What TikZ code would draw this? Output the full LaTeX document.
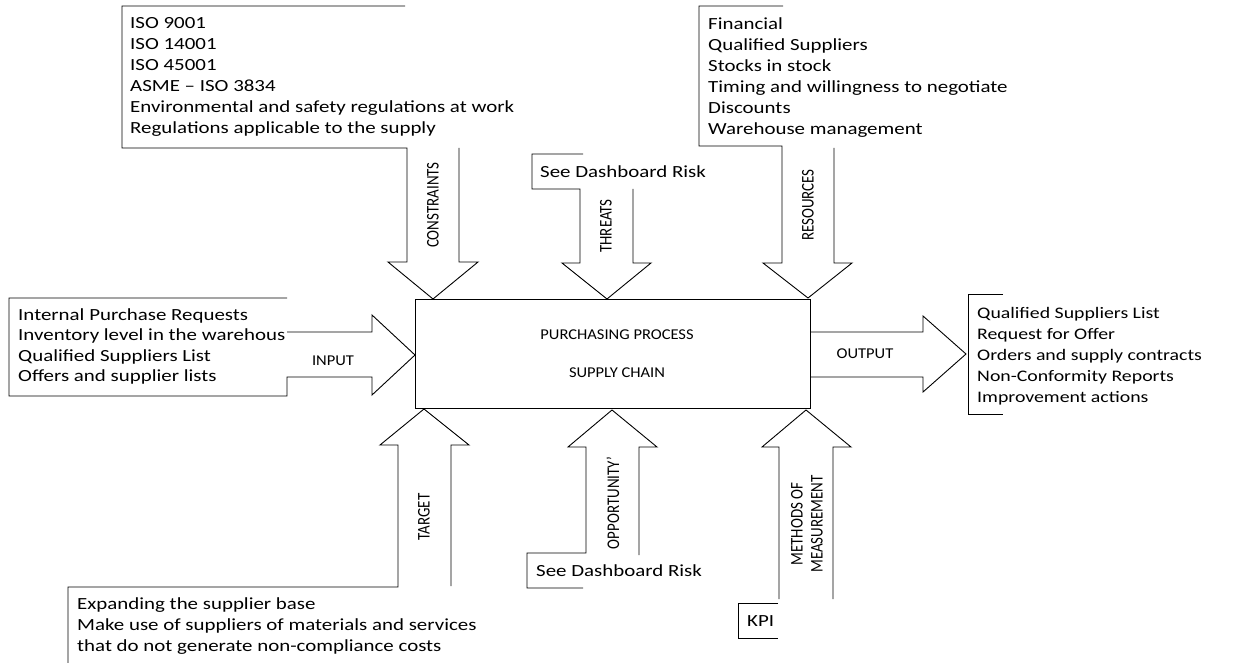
\documentclass[tikz,border=0pt]{standalone}
\usepackage{fontspec}
\setmainfont{Carlito}[Ligatures=TeX]
\newfontfamily\widefont{Carlito}[FakeStretch=1.23, Ligatures=TeX]
\newfontfamily\labelfont{Carlito}[FakeStretch=1.1, Ligatures=TeX]
\newfontfamily\narrowfont{Carlito}[FakeStretch=0.84, Ligatures=TeX]
\begin{document}
\begin{tikzpicture}[x=1pt,y=-1pt]
\tikzset{
  outline/.style={draw=black, line width=0.9pt, line join=miter},
  listtxt/.style={anchor=north west, inner sep=0pt, align=left,
    font=\widefont\fontsize{17}{21}\selectfont},
  smalllist/.style={listtxt, font=\widefont\fontsize{16.1}{21.2}\selectfont},
  vlabel/.style={rotate=90, inner sep=0pt, align=center,
    font=\narrowfont\fontsize{17.8}{20}\selectfont},
  hlabel/.style={inner sep=0pt, font=\labelfont\fontsize{15}{17}\selectfont},
}
\useasboundingbox (0,0) rectangle (1237,663);

% central process box
\node[outline, minimum width=395pt, minimum height=109pt, inner sep=0pt] (proc) at (612.5,353.5) {};
\node[hlabel] (proctitle) at (617,335) {PURCHASING PROCESS};
\node[hlabel] (procsub) at (617,373) {SUPPLY CHAIN};

% constraints: bracket and downward arrow
\draw[outline] (405,6) -- (122,6) -- (122,148) -- (407,148) -- (407,262) -- (388,262)
  -- (433,299) -- (478,262) -- (459,262) -- (459,148);
\node[listtxt] (constr) at (130,13.6) {\strut ISO 9001\\ISO 14001\\ISO 45001\\ASME – ISO 3834\\
  Environmental and safety regulations at work\\Regulations applicable to the supply};
\node[vlabel] (constrlbl) at (433,205) {CONSTRAINTS};

% threats
\draw[outline] (583,154) -- (532,154) -- (532,189) -- (580,189) -- (580,263) -- (562,263)
  -- (607,299) -- (651,263) -- (633,263) -- (633,189);
\node[listtxt] (threatsrc) at (540,162.5) {\strut See Dashboard Risk};
\node[vlabel] (threatlbl) at (606,226) {THREATS};

% resources
\draw[outline] (783,6) -- (699,6) -- (699,146) -- (782,146) -- (782,263) -- (763,263)
  -- (808,298) -- (852,263) -- (834,263) -- (834,148);
\node[listtxt] (resrc) at (708,14.5) {\strut Financial\\Qualified Suppliers\\Stocks in stock\\
  Timing and willingness to negotiate\\Discounts\\Warehouse management};
\node[vlabel] (reslbl) at (808,205) {RESOURCES};

% input
\draw[outline] (287,298) -- (9,298) -- (9,396) -- (287,396) -- (287,377) -- (372,377)
  -- (372,395) -- (415,355) -- (372,315) -- (372,332) -- (287,332);
\node[listtxt, font=\widefont\fontsize{17}{20.3}\selectfont] (insrc) at (18,306)
  {\strut Internal Purchase Requests\\Inventory level in the warehous\\
  Qualified Suppliers List\\Offers and supplier lists};
\node[hlabel] (inlbl) at (333,361) {INPUT};

% output
\draw[outline] (810,332) -- (923,332) -- (923,316) -- (966,354) -- (923,392) -- (923,377) -- (810,377);
\draw[outline] (1003,294) -- (968,294) -- (968,414) -- (1003,414);
\node[smalllist] (outdst) at (977,303) {\strut Qualified Suppliers List\\Request for Offer\\
  Orders and supply contracts\\Non-Conformity Reports\\Improvement actions};
\node[hlabel] (outlbl) at (865,354) {OUTPUT};

% target
\draw[outline] (68,663) -- (68,587) -- (398,587) -- (398,445) -- (380,445) -- (424,409)
  -- (469,445) -- (451,445) -- (451,586);
\node[listtxt, font=\widefont\fontsize{17}{21.4}\selectfont] (tgtsrc) at (77,594)
  {\strut Expanding the supplier base\\
  Make use of suppliers of materials and services\\that do not generate non-compliance costs};
\node[vlabel] (tgtlbl) at (424,517) {TARGET};

% opportunity
\draw[outline] (583,588) -- (527,588) -- (527,553) -- (586,553) -- (586,447) -- (568,447)
  -- (612,410) -- (657,447) -- (639,447) -- (639,555);
\node[listtxt] (oppsrc) at (536,561.5) {\strut See Dashboard Risk};
\node[vlabel] (opplbl) at (613,503) {OPPORTUNITY'};

% methods of measurement
\draw[outline] (779,599) -- (779,447) -- (762,447) -- (806,410) -- (851,447) -- (833,447) -- (833,599);
\draw[outline] (778,603) -- (738,603) -- (738,638) -- (778,638);
\node[listtxt] (kpisrc) at (747,611.5) {\strut KPI};
\node[vlabel] (measlbl) at (807,524) {METHODS OF\\MEASUREMENT};
\end{tikzpicture}
\end{document}
